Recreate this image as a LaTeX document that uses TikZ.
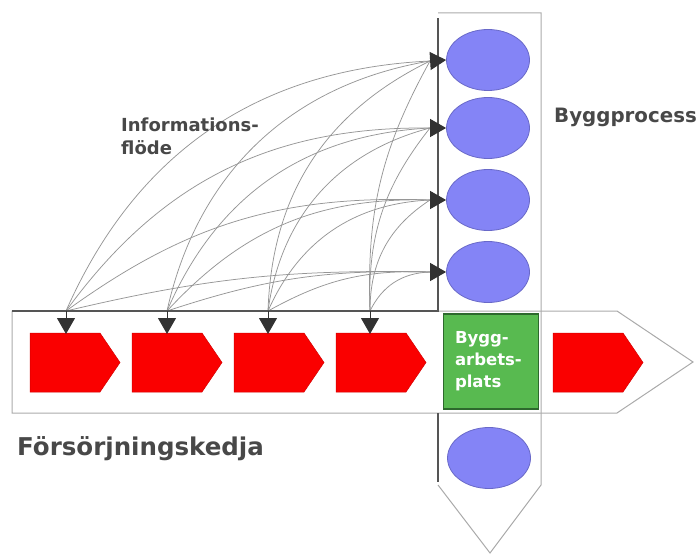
\documentclass[tikz,border=0pt]{standalone}
\usepackage{fontspec}
\setmainfont{DejaVu Sans}
\usetikzlibrary{arrows.meta,shapes.geometric}

\definecolor{labelgray}{RGB}{72,72,72}
\definecolor{edgegray}{RGB}{170,170,170}
\definecolor{darkedge}{RGB}{85,85,85}
\definecolor{flowgray}{RGB}{150,150,150}
\definecolor{tipgray}{RGB}{50,50,50}
\definecolor{chainred}{RGB}{250,0,0}
\definecolor{processblue}{RGB}{132,132,246}
\definecolor{processedge}{RGB}{105,105,200}
\definecolor{sitegreen}{RGB}{88,186,80}
\definecolor{siteedge}{RGB}{45,105,45}

\begin{document}
\begin{tikzpicture}[x=1pt,y=-1pt,
  band/.style={draw=edgegray, line width=1pt},
  wall/.style={draw=darkedge, line width=2pt},
  flow/.style={draw=flowgray, line width=0.75pt},
  pointer/.style={draw=tipgray, line width=1pt, -{Triangle[length=16pt,width=18pt]}},
  activity/.style={ellipse, fill=processblue, draw=processedge, line width=0.8pt,
    minimum width=83pt, minimum height=61pt, inner sep=0},
  link/.style={fill=chainred, draw=chainred!85!black, line width=0.5pt},
  site/.style={rectangle, fill=sitegreen, draw=siteedge, line width=1.2pt,
    minimum width=95pt, minimum height=95pt, inner sep=0, text width=72pt,
    align=left, text=white, font=\bfseries\fontsize{16.5}{22}\selectfont},
  title/.style={font=\bfseries\fontsize{#1}{#1}\selectfont, text=labelgray,
    inner sep=0, anchor=base west},
]
\useasboundingbox (0,0) rectangle (699,556);

% supply chain band (horizontal) and construction process band (vertical)
\path[band] (12,311) -- (617,311) -- (693,362) -- (617,413) -- (12,413) -- cycle;
\path[band] (438,13) -- (541,13) -- (541,485) -- (490,553) -- (438,485);

% shared end points of the information flow
\foreach \x [count=\i] in {66,167,268,370} {
  \coordinate (b\i) at (\x,311);
  \coordinate (t\i) at (\x,334);
}
\foreach \y [count=\j] in {61,128,200,272}
  \coordinate (r\j) at (430,\y);

% information flow arcs: every chain step to every process step
\foreach \x [count=\i] in {66,167,268,370}
  \foreach \y [count=\j] in {61,128,200,272} {
    \pgfmathsetmacro\bendamt{34*sin(2*atan2(311-\y,430-\x))}
    \draw[flow] (b\i) to[bend left=\bendamt] (r\j);
  }

% darker inner edges of the two bands
\draw[wall] (12,311) -- (438,311) -- (438,18);
\draw[wall] (438,413) -- (438,482);

% process steps
\foreach \y [count=\j] in {60,128,200,272}
  \node[activity] (p\j) at (488,\y) {};
\node[activity] (p5) at (489,458) {};

% supply chain steps
\foreach \x in {30,132,234,336,553}
  \path[link] (\x,333) -- ++(70,0) -- ++(20,29.5) -- ++(-20,29.5) -- ++(-70,0) -- cycle;

% construction site
\node[site] (site) at (491,361.5) {Bygg-\\arbets-\\plats};

% arrowheads
\foreach \i in {1,...,4} \draw[pointer] (b\i) -- (t\i);
\foreach \j in {1,...,4} \draw[pointer] (r\j) -- (p\j.west);

% labels
\node[title=18] (info) at (121,132) {Informations-};
\node[title=18] (infob) at (121,155) {flöde};
\node[title=19.8] (process) at (554,123) {Byggprocess};
\node[title=24.5] (chain) at (17,455) {Försörjningskedja};
\end{tikzpicture}
\end{document}
